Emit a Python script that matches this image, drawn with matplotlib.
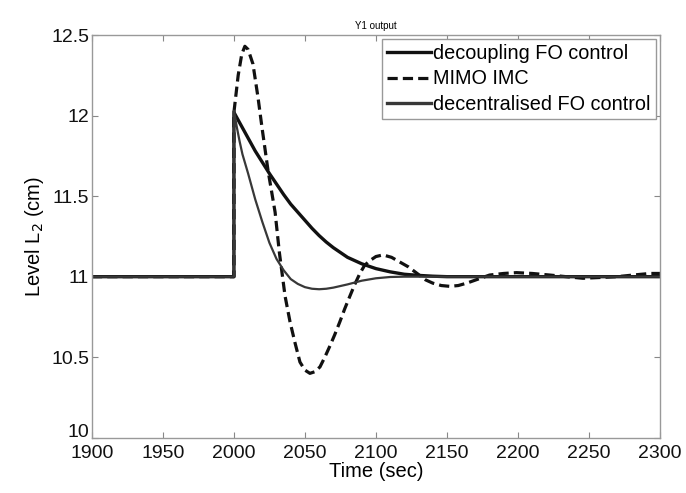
import matplotlib
matplotlib.use("Agg")
import matplotlib.pyplot as plt
from matplotlib.transforms import ScaledTranslation

# Decoupling FO control (thick solid)
t_dec = [1900, 2000, 2000, 2005, 2010, 2015, 2020, 2025, 2030, 2035, 2040, 2045, 2050, 2055,
         2060, 2065, 2070, 2075, 2080, 2085, 2090, 2095, 2100, 2110, 2120, 2130, 2140, 2150, 2300]
y_dec = [11.0, 11.0, 12.02, 11.94, 11.86, 11.78, 11.71, 11.64, 11.575, 11.51, 11.45, 11.40, 11.35, 11.30,
         11.255, 11.215, 11.18, 11.15, 11.12, 11.10, 11.08, 11.065, 11.05, 11.03, 11.015, 11.008, 11.003,
         11.0, 11.0]

# MIMO IMC (dashed)
t_imc = [1900, 2000, 2000, 2003, 2005.5, 2007.7, 2010, 2013.4, 2017, 2019.7, 2024, 2029, 2032,
         2036, 2039.5, 2043, 2046.5, 2050, 2053.5, 2057, 2060.6, 2064, 2067.6, 2071, 2074.6,
         2078, 2081.7, 2085, 2088.7, 2092, 2095.8, 2100, 2105, 2111, 2117, 2123, 2129, 2135,
         2140, 2146, 2152, 2158, 2164, 2172, 2180, 2190, 2199, 2210, 2222.5, 2234, 2245.8,
         2258, 2269.7, 2281, 2293, 2300]
y_imc = [11.0, 11.0, 12.02, 12.25, 12.38, 12.43, 12.41, 12.32, 12.11, 11.93, 11.66, 11.40, 11.15,
         10.88, 10.72, 10.59, 10.47, 10.42, 10.40, 10.41, 10.44, 10.50, 10.57, 10.64, 10.72,
         10.80, 10.88, 10.95, 11.02, 11.07, 11.10, 11.125, 11.135, 11.12, 11.09, 11.06, 11.02, 10.98,
         10.96, 10.945, 10.94, 10.945, 10.96, 10.985, 11.01, 11.02, 11.025, 11.02, 11.01, 11.0, 10.99,
         10.995, 11.0, 11.01, 11.02, 11.02]

# Decentralised FO control (thinner solid)
t_dct = [1900, 2000, 2000, 2002, 2004, 2006, 2008, 2010, 2015, 2020, 2025, 2030, 2035, 2040,
         2045, 2050, 2055, 2060, 2065, 2070, 2080, 2090, 2100, 2110, 2120, 2300]
y_dct = [11.0, 11.0, 12.03, 11.93, 11.84, 11.76, 11.70, 11.64, 11.48, 11.34, 11.21, 11.11, 11.04, 10.985,
         10.955, 10.935, 10.925, 10.922, 10.925, 10.932, 10.952, 10.975, 10.99, 10.998, 11.0, 11.0]

x_ticks = [1900, 1950, 2000, 2050, 2100, 2150, 2200, 2250, 2300]
y_ticks = [10, 10.5, 11, 11.5, 12, 12.5]
y_tick_labels = ["10", "10.5", "11", "11.5", "12", "12.5"]

plt.rcParams['font.family'] = ['Liberation Sans', 'DejaVu Sans']

fig = plt.figure(figsize=(6.86, 4.93), dpi=100)
ax = fig.add_axes([0.134, 0.112, 0.828, 0.817])

ax.plot(t_dec, y_dec, color='#111111', lw=2.4, label='decoupling FO control')
ax.plot(t_imc, y_imc, color='#111111', lw=2.3, ls=(0, (3.2, 1.6)), label='MIMO IMC')
ax.plot(t_dct, y_dct, color='#383838', lw=1.6, label='decentralised FO control')

ax.set_xlim(1900, 2300)
ax.set_ylim(10, 12.5)
ax.set_xticks(x_ticks)
ax.set_yticks(y_ticks)
ax.set_yticklabels(y_tick_labels)
ax.tick_params(direction='in', top=True, right=True, length=4, width=0.8,
               color='#888888', labelsize=14, labelcolor='#111111', pad=2)
ax.tick_params(axis='x', pad=5)
for s in ax.spines.values():
    s.set_color('#999999')
    s.set_linewidth(1.0)

# lift the bottom y label slightly (as in the reference it sits just above 1900)
lab0 = ax.get_yticklabels()[0]
lab0.set_transform(lab0.get_transform() + ScaledTranslation(0, 5 / 72, fig.dpi_scale_trans))

ax.set_xlabel('Time (sec)', fontsize=14.5, labelpad=0)
ax.set_ylabel('Level L$_2$ (cm)', fontsize=14.5, labelpad=4)
ax.set_title('Y1 output', fontsize=7, pad=4)

leg = ax.legend(loc='upper right', fontsize=14.3, handlelength=2.2, handletextpad=0.15,
                borderpad=0.25, labelspacing=0.33, borderaxespad=0.2, fancybox=False,
                framealpha=1, edgecolor='#999999')
leg.get_frame().set_linewidth(1.0)
leg.legend_handles[2].set_linewidth(2.4)

fig.savefig('out.png', dpi=100)
